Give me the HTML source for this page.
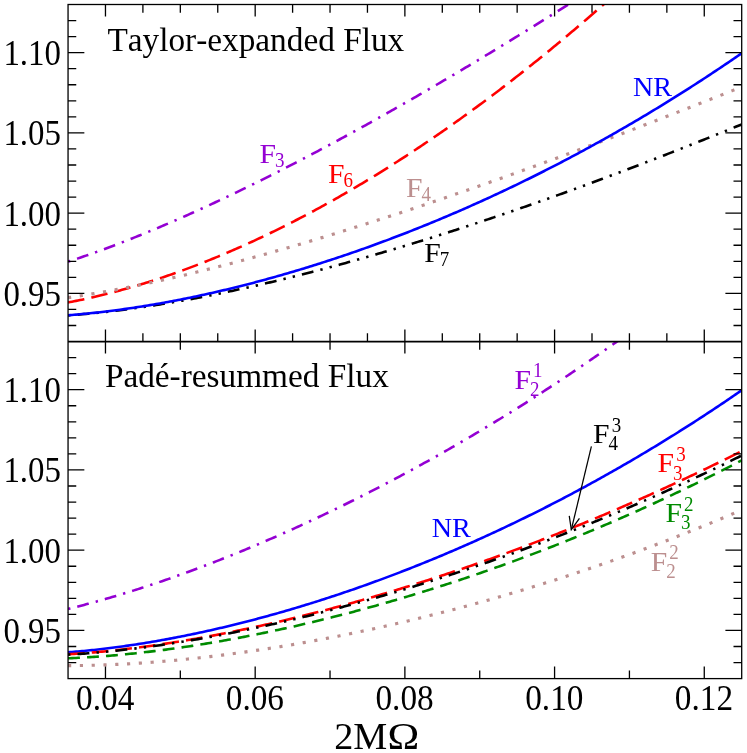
<!DOCTYPE html>
<html><head><meta charset="utf-8"><title>Flux</title>
<style>html,body{margin:0;padding:0;background:#fff;}svg{display:block;}text{font-family:"Liberation Serif",serif;font-kerning:none;font-variant-ligatures:none;}</style></head>
<body>
<svg width="747" height="753" viewBox="0 0 747 753" style="will-change:transform;transform:translateZ(0)">
<rect x="0" y="0" width="747" height="753" fill="#ffffff"/>
<defs>
<clipPath id="c0"><rect x="68.05" y="4.50" width="673.65" height="337.05"/></clipPath>
<clipPath id="c1"><rect x="68.05" y="341.55" width="673.65" height="337.05"/></clipPath>
</defs>
<g clip-path="url(#c0)" stroke-linecap="butt" stroke-linejoin="round">
<path d="M68.05 315.40 L70.05 315.25 L72.05 315.10 L74.05 314.94 L76.05 314.78 L78.04 314.61 L80.04 314.44 L82.04 314.27 L84.04 314.09 L86.04 313.91 L88.04 313.72 L90.04 313.53 L92.04 313.33 L94.04 313.13 L96.04 312.93 L98.03 312.72 L100.03 312.51 L102.03 312.29 L104.03 312.07 L106.03 311.85 L108.03 311.62 L110.03 311.39 L112.03 311.15 L114.03 310.91 L116.03 310.67 L118.02 310.42 L120.02 310.17 L122.02 309.92 L124.02 309.66 L126.02 309.39 L128.02 309.13 L130.02 308.86 L132.02 308.59 L134.02 308.31 L136.01 308.03 L138.01 307.75 L140.01 307.46 L142.01 307.17 L144.01 306.88 L146.01 306.58 L148.01 306.28 L150.01 305.97 L152.01 305.67 L154.01 305.36 L156.00 305.04 L158.00 304.73 L160.00 304.41 L162.00 304.08 L164.00 303.76 L166.00 303.43 L168.00 303.09 L170.00 302.76 L172.00 302.42 L173.99 302.08 L175.99 301.73 L177.99 301.38 L179.99 301.03 L181.99 300.68 L183.99 300.32 L185.99 299.96 L187.99 299.60 L189.99 299.23 L191.99 298.86 L193.98 298.49 L195.98 298.12 L197.98 297.74 L199.98 297.36 L201.98 296.97 L203.98 296.59 L205.98 296.20 L207.98 295.81 L209.98 295.41 L211.98 295.02 L213.97 294.62 L215.97 294.21 L217.97 293.81 L219.97 293.40 L221.97 292.99 L223.97 292.58 L225.97 292.16 L227.97 291.74 L229.97 291.32 L231.96 290.90 L233.96 290.47 L235.96 290.05 L237.96 289.61 L239.96 289.18 L241.96 288.74 L243.96 288.31 L245.96 287.86 L247.96 287.42 L249.96 286.97 L251.95 286.53 L253.95 286.08 L255.95 285.62 L257.95 285.17 L259.95 284.71 L261.95 284.25 L263.95 283.79 L265.95 283.32 L267.95 282.85 L269.95 282.38 L271.94 281.91 L273.94 281.44 L275.94 280.96 L277.94 280.48 L279.94 280.00 L281.94 279.52 L283.94 279.03 L285.94 278.54 L287.94 278.05 L289.93 277.56 L291.93 277.06 L293.93 276.57 L295.93 276.07 L297.93 275.57 L299.93 275.06 L301.93 274.56 L303.93 274.05 L305.93 273.54 L307.93 273.03 L309.92 272.52 L311.92 272.00 L313.92 271.48 L315.92 270.96 L317.92 270.44 L319.92 269.91 L321.92 269.39 L323.92 268.86 L325.92 268.33 L327.91 267.80 L329.91 267.26 L331.91 266.73 L333.91 266.19 L335.91 265.65 L337.91 265.11 L339.91 264.56 L341.91 264.01 L343.91 263.47 L345.91 262.92 L347.90 262.36 L349.90 261.81 L351.90 261.25 L353.90 260.70 L355.90 260.14 L357.90 259.58 L359.90 259.01 L361.90 258.45 L363.90 257.88 L365.90 257.31 L367.89 256.74 L369.89 256.17 L371.89 255.59 L373.89 255.02 L375.89 254.44 L377.89 253.86 L379.89 253.28 L381.89 252.69 L383.89 252.11 L385.88 251.52 L387.88 250.93 L389.88 250.34 L391.88 249.75 L393.88 249.15 L395.88 248.56 L397.88 247.96 L399.88 247.36 L401.88 246.76 L403.88 246.16 L405.87 245.55 L407.87 244.95 L409.87 244.34 L411.87 243.73 L413.87 243.12 L415.87 242.50 L417.87 241.89 L419.87 241.27 L421.87 240.66 L423.87 240.04 L425.86 239.42 L427.86 238.79 L429.86 238.17 L431.86 237.54 L433.86 236.92 L435.86 236.29 L437.86 235.66 L439.86 235.02 L441.86 234.39 L443.85 233.75 L445.85 233.12 L447.85 232.48 L449.85 231.84 L451.85 231.20 L453.85 230.55 L455.85 229.91 L457.85 229.26 L459.85 228.61 L461.85 227.96 L463.84 227.31 L465.84 226.66 L467.84 226.01 L469.84 225.35 L471.84 224.70 L473.84 224.04 L475.84 223.38 L477.84 222.72 L479.84 222.05 L481.84 221.39 L483.83 220.72 L485.83 220.06 L487.83 219.39 L489.83 218.72 L491.83 218.05 L493.83 217.37 L495.83 216.70 L497.83 216.02 L499.83 215.35 L501.82 214.67 L503.82 213.99 L505.82 213.31 L507.82 212.62 L509.82 211.94 L511.82 211.25 L513.82 210.57 L515.82 209.88 L517.82 209.19 L519.82 208.50 L521.81 207.80 L523.81 207.11 L525.81 206.42 L527.81 205.72 L529.81 205.02 L531.81 204.32 L533.81 203.62 L535.81 202.92 L537.81 202.22 L539.80 201.51 L541.80 200.81 L543.80 200.10 L545.80 199.39 L547.80 198.68 L549.80 197.97 L551.80 197.26 L553.80 196.55 L555.80 195.83 L557.80 195.11 L559.79 194.40 L561.79 193.68 L563.79 192.96 L565.79 192.24 L567.79 191.52 L569.79 190.79 L571.79 190.07 L573.79 189.34 L575.79 188.61 L577.79 187.89 L579.78 187.16 L581.78 186.43 L583.78 185.69 L585.78 184.96 L587.78 184.23 L589.78 183.49 L591.78 182.75 L593.78 182.01 L595.78 181.28 L597.77 180.53 L599.77 179.79 L601.77 179.05 L603.77 178.31 L605.77 177.56 L607.77 176.81 L609.77 176.07 L611.77 175.32 L613.77 174.57 L615.77 173.82 L617.76 173.07 L619.76 172.31 L621.76 171.56 L623.76 170.80 L625.76 170.05 L627.76 169.29 L629.76 168.53 L631.76 167.77 L633.76 167.01 L635.76 166.25 L637.75 165.48 L639.75 164.72 L641.75 163.95 L643.75 163.19 L645.75 162.42 L647.75 161.65 L649.75 160.88 L651.75 160.11 L653.75 159.34 L655.74 158.56 L657.74 157.79 L659.74 157.01 L661.74 156.24 L663.74 155.46 L665.74 154.68 L667.74 153.90 L669.74 153.12 L671.74 152.34 L673.74 151.56 L675.73 150.78 L677.73 149.99 L679.73 149.21 L681.73 148.42 L683.73 147.63 L685.73 146.84 L687.73 146.05 L689.73 145.26 L691.73 144.47 L693.72 143.68 L695.72 142.88 L697.72 142.09 L699.72 141.29 L701.72 140.50 L703.72 139.70 L705.72 138.90 L707.72 138.10 L709.72 137.30 L711.72 136.50 L713.71 135.70 L715.71 134.89 L717.71 134.09 L719.71 133.28 L721.71 132.48 L723.71 131.67 L725.71 130.86 L727.71 130.05 L729.71 129.24 L731.71 128.43 L733.70 127.62 L735.70 126.81 L737.70 125.99 L739.70 125.18 L741.70 124.36" fill="none" stroke="#000000" stroke-width="2.58" stroke-dasharray="2.38,7.13,11.88,7.13,2.38,7.13" stroke-dashoffset="0.00"/>
<path d="M68.05 261.70 L70.05 261.05 L72.05 260.39 L74.05 259.72 L76.05 259.06 L78.04 258.38 L80.04 257.70 L82.04 257.02 L84.04 256.33 L86.04 255.64 L88.04 254.94 L90.04 254.24 L92.04 253.53 L94.04 252.82 L96.04 252.10 L98.03 251.38 L100.03 250.66 L102.03 249.93 L104.03 249.19 L106.03 248.45 L108.03 247.71 L110.03 246.96 L112.03 246.21 L114.03 245.46 L116.03 244.70 L118.02 243.93 L120.02 243.16 L122.02 242.39 L124.02 241.61 L126.02 240.83 L128.02 240.05 L130.02 239.26 L132.02 238.47 L134.02 237.67 L136.01 236.87 L138.01 236.07 L140.01 235.26 L142.01 234.45 L144.01 233.64 L146.01 232.82 L148.01 231.99 L150.01 231.17 L152.01 230.34 L154.01 229.50 L156.00 228.67 L158.00 227.83 L160.00 226.98 L162.00 226.14 L164.00 225.29 L166.00 224.43 L168.00 223.57 L170.00 222.71 L172.00 221.85 L173.99 220.98 L175.99 220.11 L177.99 219.24 L179.99 218.36 L181.99 217.48 L183.99 216.59 L185.99 215.71 L187.99 214.82 L189.99 213.92 L191.99 213.03 L193.98 212.13 L195.98 211.22 L197.98 210.32 L199.98 209.41 L201.98 208.50 L203.98 207.58 L205.98 206.66 L207.98 205.74 L209.98 204.82 L211.98 203.89 L213.97 202.96 L215.97 202.03 L217.97 201.09 L219.97 200.16 L221.97 199.22 L223.97 198.27 L225.97 197.33 L227.97 196.38 L229.97 195.42 L231.96 194.47 L233.96 193.51 L235.96 192.55 L237.96 191.59 L239.96 190.62 L241.96 189.65 L243.96 188.68 L245.96 187.71 L247.96 186.73 L249.96 185.76 L251.95 184.77 L253.95 183.79 L255.95 182.80 L257.95 181.81 L259.95 180.82 L261.95 179.83 L263.95 178.83 L265.95 177.83 L267.95 176.83 L269.95 175.83 L271.94 174.82 L273.94 173.81 L275.94 172.80 L277.94 171.79 L279.94 170.77 L281.94 169.76 L283.94 168.74 L285.94 167.71 L287.94 166.69 L289.93 165.66 L291.93 164.63 L293.93 163.60 L295.93 162.57 L297.93 161.53 L299.93 160.49 L301.93 159.45 L303.93 158.41 L305.93 157.36 L307.93 156.31 L309.92 155.26 L311.92 154.21 L313.92 153.16 L315.92 152.10 L317.92 151.04 L319.92 149.98 L321.92 148.92 L323.92 147.85 L325.92 146.79 L327.91 145.72 L329.91 144.65 L331.91 143.57 L333.91 142.50 L335.91 141.42 L337.91 140.34 L339.91 139.26 L341.91 138.18 L343.91 137.09 L345.91 136.01 L347.90 134.92 L349.90 133.83 L351.90 132.73 L353.90 131.64 L355.90 130.54 L357.90 129.44 L359.90 128.34 L361.90 127.24 L363.90 126.13 L365.90 125.03 L367.89 123.92 L369.89 122.81 L371.89 121.70 L373.89 120.58 L375.89 119.47 L377.89 118.35 L379.89 117.23 L381.89 116.11 L383.89 114.98 L385.88 113.86 L387.88 112.73 L389.88 111.60 L391.88 110.47 L393.88 109.34 L395.88 108.21 L397.88 107.07 L399.88 105.93 L401.88 104.80 L403.88 103.65 L405.87 102.51 L407.87 101.37 L409.87 100.22 L411.87 99.07 L413.87 97.92 L415.87 96.77 L417.87 95.62 L419.87 94.47 L421.87 93.31 L423.87 92.15 L425.86 90.99 L427.86 89.83 L429.86 88.67 L431.86 87.50 L433.86 86.34 L435.86 85.17 L437.86 84.00 L439.86 82.83 L441.86 81.66 L443.85 80.48 L445.85 79.31 L447.85 78.13 L449.85 76.95 L451.85 75.77 L453.85 74.59 L455.85 73.40 L457.85 72.22 L459.85 71.03 L461.85 69.84 L463.84 68.65 L465.84 67.46 L467.84 66.27 L469.84 65.08 L471.84 63.88 L473.84 62.68 L475.84 61.48 L477.84 60.28 L479.84 59.08 L481.84 57.88 L483.83 56.67 L485.83 55.47 L487.83 54.26 L489.83 53.05 L491.83 51.84 L493.83 50.63 L495.83 49.42 L497.83 48.20 L499.83 46.98 L501.82 45.77 L503.82 44.55 L505.82 43.33 L507.82 42.11 L509.82 40.88 L511.82 39.66 L513.82 38.43 L515.82 37.20 L517.82 35.98 L519.82 34.75 L521.81 33.51 L523.81 32.28 L525.81 31.05 L527.81 29.81 L529.81 28.57 L531.81 27.34 L533.81 26.10 L535.81 24.86 L537.81 23.61 L539.80 22.37 L541.80 21.13 L543.80 19.88 L545.80 18.63 L547.80 17.38 L549.80 16.13 L551.80 14.88 L553.80 13.63 L555.80 12.37 L557.80 11.12 L559.79 9.86 L561.79 8.60 L563.79 7.35 L565.79 6.09 L567.79 4.82 L569.79 3.56 L571.79 2.30 L573.79 1.03 L575.79 -0.23 L577.79 -1.50 L579.78 -2.77 L581.78 -4.04 L583.78 -5.31 L585.78 -6.59 L587.78 -7.86 L589.78 -9.14 L591.78 -10.41 L593.78 -11.69 L595.78 -12.97 L597.77 -14.25 L599.77 -15.53 L601.77 -16.81 L603.77 -18.09 L605.77 -19.38 L607.77 -20.66 L609.77 -21.95 L611.77 -23.24 L613.77 -24.53 L615.77 -25.82 L617.76 -27.11 L619.76 -28.40 L621.76 -29.70 L623.76 -30.99 L625.76 -32.29 L627.76 -33.59 L629.76 -34.89 L631.76 -36.18 L633.76 -37.49 L635.76 -38.79 L637.75 -40.09 L639.75 -41.39 L641.75 -42.70 L643.75 -44.01 L645.75 -45.31 L647.75 -46.62 L649.75 -47.93 L651.75 -49.24 L653.75 -50.55 L655.74 -51.87 L657.74 -53.18 L659.74 -54.50 L661.74 -55.81 L663.74 -57.13 L665.74 -58.45 L667.74 -59.77 L669.74 -61.09 L671.74 -62.41 L673.74 -63.73 L675.73 -65.05 L677.73 -66.38 L679.73 -67.70 L681.73 -69.03 L683.73 -70.36 L685.73 -71.69 L687.73 -73.02 L689.73 -74.35 L691.73 -75.68 L693.72 -77.01 L695.72 -78.35 L697.72 -79.68 L699.72 -81.02 L701.72 -82.35 L703.72 -83.69 L705.72 -85.03 L707.72 -86.37 L709.72 -87.71 L711.72 -89.05 L713.71 -90.40 L715.71 -91.74 L717.71 -93.09 L719.71 -94.43 L721.71 -95.78 L723.71 -97.13 L725.71 -98.47 L727.71 -99.82 L729.71 -101.18 L731.71 -102.53 L733.70 -103.88 L735.70 -105.23 L737.70 -106.59 L739.70 -107.94 L741.70 -109.30" fill="none" stroke="#9400d3" stroke-width="2.58" stroke-dasharray="2.38,7.13,11.88,7.13" stroke-dashoffset="0.00"/>
<path d="M68.05 302.44 L70.05 302.06 L72.05 301.68 L74.05 301.28 L76.05 300.88 L78.04 300.48 L80.04 300.06 L82.04 299.64 L84.04 299.22 L86.04 298.78 L88.04 298.34 L90.04 297.89 L92.04 297.44 L94.04 296.98 L96.04 296.51 L98.03 296.04 L100.03 295.56 L102.03 295.07 L104.03 294.58 L106.03 294.08 L108.03 293.58 L110.03 293.06 L112.03 292.55 L114.03 292.02 L116.03 291.49 L118.02 290.95 L120.02 290.41 L122.02 289.86 L124.02 289.30 L126.02 288.74 L128.02 288.17 L130.02 287.60 L132.02 287.02 L134.02 286.43 L136.01 285.84 L138.01 285.24 L140.01 284.64 L142.01 284.03 L144.01 283.41 L146.01 282.79 L148.01 282.16 L150.01 281.53 L152.01 280.89 L154.01 280.24 L156.00 279.59 L158.00 278.93 L160.00 278.27 L162.00 277.60 L164.00 276.92 L166.00 276.24 L168.00 275.56 L170.00 274.87 L172.00 274.17 L173.99 273.46 L175.99 272.75 L177.99 272.04 L179.99 271.32 L181.99 270.59 L183.99 269.86 L185.99 269.12 L187.99 268.38 L189.99 267.63 L191.99 266.88 L193.98 266.12 L195.98 265.35 L197.98 264.58 L199.98 263.81 L201.98 263.02 L203.98 262.24 L205.98 261.44 L207.98 260.65 L209.98 259.84 L211.98 259.03 L213.97 258.22 L215.97 257.40 L217.97 256.57 L219.97 255.74 L221.97 254.91 L223.97 254.06 L225.97 253.22 L227.97 252.36 L229.97 251.51 L231.96 250.64 L233.96 249.78 L235.96 248.90 L237.96 248.02 L239.96 247.14 L241.96 246.25 L243.96 245.36 L245.96 244.46 L247.96 243.55 L249.96 242.64 L251.95 241.72 L253.95 240.80 L255.95 239.88 L257.95 238.95 L259.95 238.01 L261.95 237.07 L263.95 236.12 L265.95 235.17 L267.95 234.21 L269.95 233.25 L271.94 232.28 L273.94 231.31 L275.94 230.33 L277.94 229.35 L279.94 228.36 L281.94 227.37 L283.94 226.37 L285.94 225.36 L287.94 224.35 L289.93 223.34 L291.93 222.32 L293.93 221.30 L295.93 220.27 L297.93 219.24 L299.93 218.20 L301.93 217.15 L303.93 216.10 L305.93 215.05 L307.93 213.99 L309.92 212.93 L311.92 211.86 L313.92 210.78 L315.92 209.70 L317.92 208.62 L319.92 207.53 L321.92 206.44 L323.92 205.34 L325.92 204.23 L327.91 203.12 L329.91 202.01 L331.91 200.89 L333.91 199.77 L335.91 198.64 L337.91 197.51 L339.91 196.37 L341.91 195.22 L343.91 194.07 L345.91 192.92 L347.90 191.76 L349.90 190.60 L351.90 189.43 L353.90 188.26 L355.90 187.08 L357.90 185.90 L359.90 184.71 L361.90 183.52 L363.90 182.32 L365.90 181.12 L367.89 179.91 L369.89 178.70 L371.89 177.48 L373.89 176.26 L375.89 175.03 L377.89 173.80 L379.89 172.57 L381.89 171.32 L383.89 170.08 L385.88 168.83 L387.88 167.57 L389.88 166.31 L391.88 165.05 L393.88 163.78 L395.88 162.50 L397.88 161.22 L399.88 159.94 L401.88 158.65 L403.88 157.35 L405.87 156.05 L407.87 154.75 L409.87 153.44 L411.87 152.13 L413.87 150.81 L415.87 149.49 L417.87 148.16 L419.87 146.83 L421.87 145.49 L423.87 144.15 L425.86 142.80 L427.86 141.45 L429.86 140.10 L431.86 138.74 L433.86 137.37 L435.86 136.00 L437.86 134.62 L439.86 133.24 L441.86 131.86 L443.85 130.47 L445.85 129.08 L447.85 127.68 L449.85 126.27 L451.85 124.87 L453.85 123.45 L455.85 122.04 L457.85 120.61 L459.85 119.19 L461.85 117.76 L463.84 116.32 L465.84 114.88 L467.84 113.43 L469.84 111.98 L471.84 110.53 L473.84 109.07 L475.84 107.60 L477.84 106.13 L479.84 104.66 L481.84 103.18 L483.83 101.70 L485.83 100.21 L487.83 98.72 L489.83 97.22 L491.83 95.72 L493.83 94.21 L495.83 92.70 L497.83 91.18 L499.83 89.66 L501.82 88.14 L503.82 86.61 L505.82 85.07 L507.82 83.53 L509.82 81.99 L511.82 80.44 L513.82 78.89 L515.82 77.33 L517.82 75.77 L519.82 74.20 L521.81 72.63 L523.81 71.05 L525.81 69.47 L527.81 67.89 L529.81 66.30 L531.81 64.70 L533.81 63.10 L535.81 61.50 L537.81 59.89 L539.80 58.28 L541.80 56.66 L543.80 55.04 L545.80 53.41 L547.80 51.78 L549.80 50.14 L551.80 48.50 L553.80 46.86 L555.80 45.21 L557.80 43.55 L559.79 41.89 L561.79 40.23 L563.79 38.56 L565.79 36.89 L567.79 35.21 L569.79 33.53 L571.79 31.84 L573.79 30.15 L575.79 28.45 L577.79 26.75 L579.78 25.05 L581.78 23.34 L583.78 21.62 L585.78 19.90 L587.78 18.18 L589.78 16.45 L591.78 14.72 L593.78 12.98 L595.78 11.24 L597.77 9.49 L599.77 7.74 L601.77 5.98 L603.77 4.22 L605.77 2.46 L607.77 0.69 L609.77 -1.08 L611.77 -2.86 L613.77 -4.64 L615.77 -6.43 L617.76 -8.22 L619.76 -10.02 L621.76 -11.82 L623.76 -13.63 L625.76 -15.44 L627.76 -17.25 L629.76 -19.07 L631.76 -20.90 L633.76 -22.73 L635.76 -24.56 L637.75 -26.40 L639.75 -28.24 L641.75 -30.09 L643.75 -31.94 L645.75 -33.79 L647.75 -35.65 L649.75 -37.52 L651.75 -39.39 L653.75 -41.26 L655.74 -43.14 L657.74 -45.02 L659.74 -46.91 L661.74 -48.80 L663.74 -50.70 L665.74 -52.60 L667.74 -54.51 L669.74 -56.42 L671.74 -58.33 L673.74 -60.25 L675.73 -62.18 L677.73 -64.10 L679.73 -66.04 L681.73 -67.97 L683.73 -69.92 L685.73 -71.86 L687.73 -73.81 L689.73 -75.77 L691.73 -77.73 L693.72 -79.69 L695.72 -81.66 L697.72 -83.64 L699.72 -85.62 L701.72 -87.60 L703.72 -89.59 L705.72 -91.58 L707.72 -93.57 L709.72 -95.57 L711.72 -97.58 L713.71 -99.59 L715.71 -101.60 L717.71 -103.62 L719.71 -105.65 L721.71 -107.67 L723.71 -109.71 L725.71 -111.74 L727.71 -113.79 L729.71 -115.83 L731.71 -117.88 L733.70 -119.94 L735.70 -122.00 L737.70 -124.06 L739.70 -126.13 L741.70 -128.20" fill="none" stroke="#ff0000" stroke-width="2.58" stroke-dasharray="16.63,7.13" stroke-dashoffset="0.00"/>
<path d="M68.05 297.64 L70.05 297.35 L72.05 297.06 L74.05 296.77 L76.05 296.47 L78.04 296.16 L80.04 295.85 L82.04 295.54 L84.04 295.23 L86.04 294.91 L88.04 294.58 L90.04 294.26 L92.04 293.92 L94.04 293.59 L96.04 293.25 L98.03 292.91 L100.03 292.56 L102.03 292.21 L104.03 291.86 L106.03 291.50 L108.03 291.14 L110.03 290.78 L112.03 290.41 L114.03 290.04 L116.03 289.67 L118.02 289.29 L120.02 288.91 L122.02 288.53 L124.02 288.14 L126.02 287.75 L128.02 287.36 L130.02 286.96 L132.02 286.56 L134.02 286.16 L136.01 285.75 L138.01 285.35 L140.01 284.93 L142.01 284.52 L144.01 284.10 L146.01 283.68 L148.01 283.26 L150.01 282.83 L152.01 282.40 L154.01 281.97 L156.00 281.54 L158.00 281.10 L160.00 280.66 L162.00 280.22 L164.00 279.77 L166.00 279.32 L168.00 278.87 L170.00 278.42 L172.00 277.96 L173.99 277.50 L175.99 277.04 L177.99 276.58 L179.99 276.11 L181.99 275.64 L183.99 275.17 L185.99 274.70 L187.99 274.22 L189.99 273.74 L191.99 273.26 L193.98 272.78 L195.98 272.29 L197.98 271.81 L199.98 271.32 L201.98 270.82 L203.98 270.33 L205.98 269.83 L207.98 269.33 L209.98 268.83 L211.98 268.33 L213.97 267.82 L215.97 267.31 L217.97 266.80 L219.97 266.29 L221.97 265.77 L223.97 265.26 L225.97 264.74 L227.97 264.22 L229.97 263.69 L231.96 263.17 L233.96 262.64 L235.96 262.11 L237.96 261.58 L239.96 261.05 L241.96 260.51 L243.96 259.97 L245.96 259.44 L247.96 258.89 L249.96 258.35 L251.95 257.81 L253.95 257.26 L255.95 256.71 L257.95 256.16 L259.95 255.61 L261.95 255.05 L263.95 254.50 L265.95 253.94 L267.95 253.38 L269.95 252.82 L271.94 252.25 L273.94 251.69 L275.94 251.12 L277.94 250.55 L279.94 249.98 L281.94 249.41 L283.94 248.84 L285.94 248.26 L287.94 247.68 L289.93 247.10 L291.93 246.52 L293.93 245.94 L295.93 245.36 L297.93 244.77 L299.93 244.18 L301.93 243.59 L303.93 243.00 L305.93 242.41 L307.93 241.82 L309.92 241.22 L311.92 240.63 L313.92 240.03 L315.92 239.43 L317.92 238.83 L319.92 238.22 L321.92 237.62 L323.92 237.01 L325.92 236.40 L327.91 235.79 L329.91 235.18 L331.91 234.57 L333.91 233.96 L335.91 233.34 L337.91 232.73 L339.91 232.11 L341.91 231.49 L343.91 230.87 L345.91 230.25 L347.90 229.62 L349.90 229.00 L351.90 228.37 L353.90 227.74 L355.90 227.11 L357.90 226.48 L359.90 225.85 L361.90 225.22 L363.90 224.58 L365.90 223.95 L367.89 223.31 L369.89 222.67 L371.89 222.03 L373.89 221.39 L375.89 220.75 L377.89 220.11 L379.89 219.46 L381.89 218.81 L383.89 218.17 L385.88 217.52 L387.88 216.87 L389.88 216.22 L391.88 215.56 L393.88 214.91 L395.88 214.26 L397.88 213.60 L399.88 212.94 L401.88 212.28 L403.88 211.62 L405.87 210.96 L407.87 210.30 L409.87 209.64 L411.87 208.97 L413.87 208.31 L415.87 207.64 L417.87 206.97 L419.87 206.30 L421.87 205.63 L423.87 204.96 L425.86 204.29 L427.86 203.61 L429.86 202.94 L431.86 202.26 L433.86 201.59 L435.86 200.91 L437.86 200.23 L439.86 199.55 L441.86 198.87 L443.85 198.18 L445.85 197.50 L447.85 196.82 L449.85 196.13 L451.85 195.44 L453.85 194.76 L455.85 194.07 L457.85 193.38 L459.85 192.69 L461.85 191.99 L463.84 191.30 L465.84 190.61 L467.84 189.91 L469.84 189.22 L471.84 188.52 L473.84 187.82 L475.84 187.12 L477.84 186.42 L479.84 185.72 L481.84 185.02 L483.83 184.32 L485.83 183.61 L487.83 182.91 L489.83 182.20 L491.83 181.49 L493.83 180.79 L495.83 180.08 L497.83 179.37 L499.83 178.66 L501.82 177.95 L503.82 177.23 L505.82 176.52 L507.82 175.81 L509.82 175.09 L511.82 174.37 L513.82 173.66 L515.82 172.94 L517.82 172.22 L519.82 171.50 L521.81 170.78 L523.81 170.06 L525.81 169.34 L527.81 168.61 L529.81 167.89 L531.81 167.16 L533.81 166.44 L535.81 165.71 L537.81 164.98 L539.80 164.26 L541.80 163.53 L543.80 162.80 L545.80 162.07 L547.80 161.33 L549.80 160.60 L551.80 159.87 L553.80 159.13 L555.80 158.40 L557.80 157.66 L559.79 156.93 L561.79 156.19 L563.79 155.45 L565.79 154.71 L567.79 153.97 L569.79 153.23 L571.79 152.49 L573.79 151.75 L575.79 151.00 L577.79 150.26 L579.78 149.51 L581.78 148.77 L583.78 148.02 L585.78 147.28 L587.78 146.53 L589.78 145.78 L591.78 145.03 L593.78 144.28 L595.78 143.53 L597.77 142.78 L599.77 142.03 L601.77 141.27 L603.77 140.52 L605.77 139.76 L607.77 139.01 L609.77 138.25 L611.77 137.50 L613.77 136.74 L615.77 135.98 L617.76 135.22 L619.76 134.46 L621.76 133.70 L623.76 132.94 L625.76 132.18 L627.76 131.42 L629.76 130.66 L631.76 129.89 L633.76 129.13 L635.76 128.36 L637.75 127.60 L639.75 126.83 L641.75 126.06 L643.75 125.29 L645.75 124.53 L647.75 123.76 L649.75 122.99 L651.75 122.22 L653.75 121.45 L655.74 120.67 L657.74 119.90 L659.74 119.13 L661.74 118.35 L663.74 117.58 L665.74 116.80 L667.74 116.03 L669.74 115.25 L671.74 114.48 L673.74 113.70 L675.73 112.92 L677.73 112.14 L679.73 111.36 L681.73 110.58 L683.73 109.80 L685.73 109.02 L687.73 108.24 L689.73 107.45 L691.73 106.67 L693.72 105.89 L695.72 105.10 L697.72 104.32 L699.72 103.53 L701.72 102.75 L703.72 101.96 L705.72 101.17 L707.72 100.38 L709.72 99.59 L711.72 98.81 L713.71 98.02 L715.71 97.22 L717.71 96.43 L719.71 95.64 L721.71 94.85 L723.71 94.06 L725.71 93.26 L727.71 92.47 L729.71 91.68 L731.71 90.88 L733.70 90.09 L735.70 89.29 L737.70 88.49 L739.70 87.69 L741.70 86.90" fill="none" stroke="#bc8f8f" stroke-width="3.15" stroke-dasharray="3.16,8.64" stroke-dashoffset="0.00"/>
<path d="M68.05 315.25 L70.05 315.10 L72.05 314.94 L74.05 314.77 L76.05 314.60 L78.04 314.43 L80.04 314.25 L82.04 314.06 L84.04 313.88 L86.04 313.68 L88.04 313.48 L90.04 313.28 L92.04 313.07 L94.04 312.86 L96.04 312.64 L98.03 312.42 L100.03 312.19 L102.03 311.96 L104.03 311.73 L106.03 311.49 L108.03 311.24 L110.03 310.99 L112.03 310.74 L114.03 310.48 L116.03 310.22 L118.02 309.95 L120.02 309.68 L122.02 309.41 L124.02 309.13 L126.02 308.85 L128.02 308.56 L130.02 308.27 L132.02 307.97 L134.02 307.67 L136.01 307.37 L138.01 307.06 L140.01 306.75 L142.01 306.43 L144.01 306.11 L146.01 305.78 L148.01 305.45 L150.01 305.12 L152.01 304.78 L154.01 304.44 L156.00 304.10 L158.00 303.75 L160.00 303.40 L162.00 303.04 L164.00 302.68 L166.00 302.32 L168.00 301.95 L170.00 301.58 L172.00 301.20 L173.99 300.82 L175.99 300.44 L177.99 300.05 L179.99 299.66 L181.99 299.27 L183.99 298.87 L185.99 298.46 L187.99 298.06 L189.99 297.65 L191.99 297.24 L193.98 296.82 L195.98 296.40 L197.98 295.97 L199.98 295.54 L201.98 295.11 L203.98 294.68 L205.98 294.24 L207.98 293.79 L209.98 293.35 L211.98 292.90 L213.97 292.44 L215.97 291.99 L217.97 291.53 L219.97 291.06 L221.97 290.59 L223.97 290.12 L225.97 289.65 L227.97 289.17 L229.97 288.69 L231.96 288.20 L233.96 287.71 L235.96 287.22 L237.96 286.72 L239.96 286.22 L241.96 285.72 L243.96 285.21 L245.96 284.70 L247.96 284.19 L249.96 283.67 L251.95 283.15 L253.95 282.63 L255.95 282.10 L257.95 281.57 L259.95 281.03 L261.95 280.49 L263.95 279.95 L265.95 279.41 L267.95 278.86 L269.95 278.31 L271.94 277.75 L273.94 277.20 L275.94 276.63 L277.94 276.07 L279.94 275.50 L281.94 274.93 L283.94 274.35 L285.94 273.77 L287.94 273.19 L289.93 272.61 L291.93 272.02 L293.93 271.42 L295.93 270.83 L297.93 270.23 L299.93 269.63 L301.93 269.02 L303.93 268.41 L305.93 267.80 L307.93 267.18 L309.92 266.57 L311.92 265.94 L313.92 265.32 L315.92 264.69 L317.92 264.06 L319.92 263.42 L321.92 262.78 L323.92 262.14 L325.92 261.49 L327.91 260.84 L329.91 260.19 L331.91 259.54 L333.91 258.88 L335.91 258.22 L337.91 257.55 L339.91 256.88 L341.91 256.21 L343.91 255.53 L345.91 254.85 L347.90 254.17 L349.90 253.49 L351.90 252.80 L353.90 252.11 L355.90 251.41 L357.90 250.71 L359.90 250.01 L361.90 249.31 L363.90 248.60 L365.90 247.88 L367.89 247.17 L369.89 246.45 L371.89 245.73 L373.89 245.00 L375.89 244.28 L377.89 243.55 L379.89 242.81 L381.89 242.07 L383.89 241.33 L385.88 240.59 L387.88 239.84 L389.88 239.09 L391.88 238.33 L393.88 237.57 L395.88 236.81 L397.88 236.05 L399.88 235.28 L401.88 234.51 L403.88 233.74 L405.87 232.96 L407.87 232.18 L409.87 231.39 L411.87 230.60 L413.87 229.81 L415.87 229.02 L417.87 228.22 L419.87 227.42 L421.87 226.62 L423.87 225.81 L425.86 225.00 L427.86 224.19 L429.86 223.37 L431.86 222.55 L433.86 221.72 L435.86 220.90 L437.86 220.07 L439.86 219.23 L441.86 218.39 L443.85 217.55 L445.85 216.71 L447.85 215.86 L449.85 215.01 L451.85 214.16 L453.85 213.30 L455.85 212.44 L457.85 211.58 L459.85 210.71 L461.85 209.84 L463.84 208.97 L465.84 208.09 L467.84 207.21 L469.84 206.32 L471.84 205.44 L473.84 204.55 L475.84 203.65 L477.84 202.75 L479.84 201.85 L481.84 200.95 L483.83 200.04 L485.83 199.13 L487.83 198.22 L489.83 197.30 L491.83 196.38 L493.83 195.45 L495.83 194.53 L497.83 193.59 L499.83 192.66 L501.82 191.72 L503.82 190.78 L505.82 189.84 L507.82 188.89 L509.82 187.94 L511.82 186.98 L513.82 186.02 L515.82 185.06 L517.82 184.10 L519.82 183.13 L521.81 182.16 L523.81 181.18 L525.81 180.20 L527.81 179.22 L529.81 178.23 L531.81 177.24 L533.81 176.25 L535.81 175.26 L537.81 174.26 L539.80 173.25 L541.80 172.25 L543.80 171.24 L545.80 170.22 L547.80 169.21 L549.80 168.19 L551.80 167.16 L553.80 166.13 L555.80 165.10 L557.80 164.07 L559.79 163.03 L561.79 161.99 L563.79 160.94 L565.79 159.90 L567.79 158.84 L569.79 157.79 L571.79 156.73 L573.79 155.67 L575.79 154.60 L577.79 153.53 L579.78 152.46 L581.78 151.38 L583.78 150.30 L585.78 149.22 L587.78 148.13 L589.78 147.04 L591.78 145.94 L593.78 144.85 L595.78 143.74 L597.77 142.64 L599.77 141.53 L601.77 140.42 L603.77 139.30 L605.77 138.18 L607.77 137.06 L609.77 135.93 L611.77 134.80 L613.77 133.67 L615.77 132.53 L617.76 131.39 L619.76 130.24 L621.76 129.09 L623.76 127.94 L625.76 126.78 L627.76 125.62 L629.76 124.46 L631.76 123.29 L633.76 122.12 L635.76 120.95 L637.75 119.77 L639.75 118.59 L641.75 117.40 L643.75 116.21 L645.75 115.02 L647.75 113.82 L649.75 112.62 L651.75 111.42 L653.75 110.21 L655.74 109.00 L657.74 107.78 L659.74 106.56 L661.74 105.34 L663.74 104.11 L665.74 102.88 L667.74 101.65 L669.74 100.41 L671.74 99.17 L673.74 97.92 L675.73 96.67 L677.73 95.42 L679.73 94.16 L681.73 92.90 L683.73 91.63 L685.73 90.36 L687.73 89.09 L689.73 87.81 L691.73 86.53 L693.72 85.25 L695.72 83.96 L697.72 82.67 L699.72 81.37 L701.72 80.07 L703.72 78.77 L705.72 77.46 L707.72 76.15 L709.72 74.83 L711.72 73.52 L713.71 72.19 L715.71 70.86 L717.71 69.53 L719.71 68.20 L721.71 66.86 L723.71 65.51 L725.71 64.17 L727.71 62.82 L729.71 61.46 L731.71 60.10 L733.70 58.74 L735.70 57.37 L737.70 56.00 L739.70 54.62 L741.70 53.24" fill="none" stroke="#0000ff" stroke-width="2.58"/>
</g>
<g clip-path="url(#c1)" stroke-linecap="butt" stroke-linejoin="round">
<path d="M68.05 652.30 L70.05 652.15 L72.05 651.99 L74.05 651.82 L76.05 651.65 L78.04 651.48 L80.04 651.30 L82.04 651.11 L84.04 650.93 L86.04 650.73 L88.04 650.53 L90.04 650.33 L92.04 650.12 L94.04 649.91 L96.04 649.69 L98.03 649.47 L100.03 649.24 L102.03 649.01 L104.03 648.78 L106.03 648.54 L108.03 648.29 L110.03 648.04 L112.03 647.79 L114.03 647.53 L116.03 647.27 L118.02 647.00 L120.02 646.73 L122.02 646.46 L124.02 646.18 L126.02 645.90 L128.02 645.61 L130.02 645.32 L132.02 645.02 L134.02 644.72 L136.01 644.42 L138.01 644.11 L140.01 643.80 L142.01 643.48 L144.01 643.16 L146.01 642.83 L148.01 642.50 L150.01 642.17 L152.01 641.83 L154.01 641.49 L156.00 641.15 L158.00 640.80 L160.00 640.45 L162.00 640.09 L164.00 639.73 L166.00 639.37 L168.00 639.00 L170.00 638.63 L172.00 638.25 L173.99 637.87 L175.99 637.49 L177.99 637.10 L179.99 636.71 L181.99 636.32 L183.99 635.92 L185.99 635.51 L187.99 635.11 L189.99 634.70 L191.99 634.29 L193.98 633.87 L195.98 633.45 L197.98 633.02 L199.98 632.59 L201.98 632.16 L203.98 631.73 L205.98 631.29 L207.98 630.84 L209.98 630.40 L211.98 629.95 L213.97 629.49 L215.97 629.04 L217.97 628.58 L219.97 628.11 L221.97 627.64 L223.97 627.17 L225.97 626.70 L227.97 626.22 L229.97 625.74 L231.96 625.25 L233.96 624.76 L235.96 624.27 L237.96 623.77 L239.96 623.27 L241.96 622.77 L243.96 622.26 L245.96 621.75 L247.96 621.24 L249.96 620.72 L251.95 620.20 L253.95 619.68 L255.95 619.15 L257.95 618.62 L259.95 618.08 L261.95 617.54 L263.95 617.00 L265.95 616.46 L267.95 615.91 L269.95 615.36 L271.94 614.80 L273.94 614.25 L275.94 613.68 L277.94 613.12 L279.94 612.55 L281.94 611.98 L283.94 611.40 L285.94 610.82 L287.94 610.24 L289.93 609.66 L291.93 609.07 L293.93 608.47 L295.93 607.88 L297.93 607.28 L299.93 606.68 L301.93 606.07 L303.93 605.46 L305.93 604.85 L307.93 604.23 L309.92 603.62 L311.92 602.99 L313.92 602.37 L315.92 601.74 L317.92 601.11 L319.92 600.47 L321.92 599.83 L323.92 599.19 L325.92 598.54 L327.91 597.89 L329.91 597.24 L331.91 596.59 L333.91 595.93 L335.91 595.27 L337.91 594.60 L339.91 593.93 L341.91 593.26 L343.91 592.58 L345.91 591.90 L347.90 591.22 L349.90 590.54 L351.90 589.85 L353.90 589.16 L355.90 588.46 L357.90 587.76 L359.90 587.06 L361.90 586.36 L363.90 585.65 L365.90 584.93 L367.89 584.22 L369.89 583.50 L371.89 582.78 L373.89 582.05 L375.89 581.33 L377.89 580.60 L379.89 579.86 L381.89 579.12 L383.89 578.38 L385.88 577.64 L387.88 576.89 L389.88 576.14 L391.88 575.38 L393.88 574.62 L395.88 573.86 L397.88 573.10 L399.88 572.33 L401.88 571.56 L403.88 570.79 L405.87 570.01 L407.87 569.23 L409.87 568.44 L411.87 567.65 L413.87 566.86 L415.87 566.07 L417.87 565.27 L419.87 564.47 L421.87 563.67 L423.87 562.86 L425.86 562.05 L427.86 561.24 L429.86 560.42 L431.86 559.60 L433.86 558.77 L435.86 557.95 L437.86 557.12 L439.86 556.28 L441.86 555.44 L443.85 554.60 L445.85 553.76 L447.85 552.91 L449.85 552.06 L451.85 551.21 L453.85 550.35 L455.85 549.49 L457.85 548.63 L459.85 547.76 L461.85 546.89 L463.84 546.02 L465.84 545.14 L467.84 544.26 L469.84 543.37 L471.84 542.49 L473.84 541.60 L475.84 540.70 L477.84 539.80 L479.84 538.90 L481.84 538.00 L483.83 537.09 L485.83 536.18 L487.83 535.27 L489.83 534.35 L491.83 533.43 L493.83 532.50 L495.83 531.58 L497.83 530.64 L499.83 529.71 L501.82 528.77 L503.82 527.83 L505.82 526.89 L507.82 525.94 L509.82 524.99 L511.82 524.03 L513.82 523.07 L515.82 522.11 L517.82 521.15 L519.82 520.18 L521.81 519.21 L523.81 518.23 L525.81 517.25 L527.81 516.27 L529.81 515.28 L531.81 514.29 L533.81 513.30 L535.81 512.31 L537.81 511.31 L539.80 510.30 L541.80 509.30 L543.80 508.29 L545.80 507.27 L547.80 506.26 L549.80 505.24 L551.80 504.21 L553.80 503.18 L555.80 502.15 L557.80 501.12 L559.79 500.08 L561.79 499.04 L563.79 497.99 L565.79 496.95 L567.79 495.89 L569.79 494.84 L571.79 493.78 L573.79 492.72 L575.79 491.65 L577.79 490.58 L579.78 489.51 L581.78 488.43 L583.78 487.35 L585.78 486.27 L587.78 485.18 L589.78 484.09 L591.78 482.99 L593.78 481.90 L595.78 480.79 L597.77 479.69 L599.77 478.58 L601.77 477.47 L603.77 476.35 L605.77 475.23 L607.77 474.11 L609.77 472.98 L611.77 471.85 L613.77 470.72 L615.77 469.58 L617.76 468.44 L619.76 467.29 L621.76 466.14 L623.76 464.99 L625.76 463.83 L627.76 462.67 L629.76 461.51 L631.76 460.34 L633.76 459.17 L635.76 458.00 L637.75 456.82 L639.75 455.64 L641.75 454.45 L643.75 453.26 L645.75 452.07 L647.75 450.87 L649.75 449.67 L651.75 448.47 L653.75 447.26 L655.74 446.05 L657.74 444.83 L659.74 443.61 L661.74 442.39 L663.74 441.16 L665.74 439.93 L667.74 438.70 L669.74 437.46 L671.74 436.22 L673.74 434.97 L675.73 433.72 L677.73 432.47 L679.73 431.21 L681.73 429.95 L683.73 428.68 L685.73 427.41 L687.73 426.14 L689.73 424.86 L691.73 423.58 L693.72 422.30 L695.72 421.01 L697.72 419.72 L699.72 418.42 L701.72 417.12 L703.72 415.82 L705.72 414.51 L707.72 413.20 L709.72 411.88 L711.72 410.57 L713.71 409.24 L715.71 407.91 L717.71 406.58 L719.71 405.25 L721.71 403.91 L723.71 402.56 L725.71 401.22 L727.71 399.87 L729.71 398.51 L731.71 397.15 L733.70 395.79 L735.70 394.42 L737.70 393.05 L739.70 391.67 L741.70 390.29" fill="none" stroke="#0000ff" stroke-width="2.58"/>
<path d="M68.05 608.93 L70.05 608.44 L72.05 607.94 L74.05 607.44 L76.05 606.94 L78.04 606.43 L80.04 605.92 L82.04 605.40 L84.04 604.88 L86.04 604.35 L88.04 603.82 L90.04 603.28 L92.04 602.74 L94.04 602.19 L96.04 601.64 L98.03 601.09 L100.03 600.53 L102.03 599.97 L104.03 599.40 L106.03 598.83 L108.03 598.25 L110.03 597.67 L112.03 597.09 L114.03 596.50 L116.03 595.90 L118.02 595.31 L120.02 594.71 L122.02 594.10 L124.02 593.49 L126.02 592.88 L128.02 592.26 L130.02 591.64 L132.02 591.02 L134.02 590.39 L136.01 589.76 L138.01 589.12 L140.01 588.48 L142.01 587.83 L144.01 587.19 L146.01 586.53 L148.01 585.88 L150.01 585.22 L152.01 584.55 L154.01 583.89 L156.00 583.22 L158.00 582.54 L160.00 581.86 L162.00 581.18 L164.00 580.50 L166.00 579.81 L168.00 579.11 L170.00 578.42 L172.00 577.72 L173.99 577.01 L175.99 576.30 L177.99 575.59 L179.99 574.88 L181.99 574.16 L183.99 573.44 L185.99 572.71 L187.99 571.98 L189.99 571.25 L191.99 570.52 L193.98 569.78 L195.98 569.03 L197.98 568.29 L199.98 567.54 L201.98 566.78 L203.98 566.03 L205.98 565.27 L207.98 564.50 L209.98 563.74 L211.98 562.97 L213.97 562.19 L215.97 561.42 L217.97 560.64 L219.97 559.85 L221.97 559.07 L223.97 558.28 L225.97 557.48 L227.97 556.69 L229.97 555.88 L231.96 555.08 L233.96 554.27 L235.96 553.46 L237.96 552.65 L239.96 551.83 L241.96 551.01 L243.96 550.19 L245.96 549.36 L247.96 548.53 L249.96 547.70 L251.95 546.87 L253.95 546.03 L255.95 545.18 L257.95 544.34 L259.95 543.49 L261.95 542.64 L263.95 541.78 L265.95 540.92 L267.95 540.06 L269.95 539.19 L271.94 538.33 L273.94 537.45 L275.94 536.58 L277.94 535.70 L279.94 534.82 L281.94 533.94 L283.94 533.05 L285.94 532.16 L287.94 531.27 L289.93 530.37 L291.93 529.47 L293.93 528.57 L295.93 527.66 L297.93 526.75 L299.93 525.84 L301.93 524.92 L303.93 524.00 L305.93 523.08 L307.93 522.16 L309.92 521.23 L311.92 520.30 L313.92 519.37 L315.92 518.43 L317.92 517.49 L319.92 516.54 L321.92 515.60 L323.92 514.65 L325.92 513.70 L327.91 512.74 L329.91 511.78 L331.91 510.82 L333.91 509.85 L335.91 508.88 L337.91 507.91 L339.91 506.94 L341.91 505.96 L343.91 504.98 L345.91 504.00 L347.90 503.01 L349.90 502.02 L351.90 501.03 L353.90 500.03 L355.90 499.03 L357.90 498.03 L359.90 497.03 L361.90 496.02 L363.90 495.01 L365.90 493.99 L367.89 492.97 L369.89 491.95 L371.89 490.93 L373.89 489.90 L375.89 488.87 L377.89 487.84 L379.89 486.81 L381.89 485.77 L383.89 484.72 L385.88 483.68 L387.88 482.63 L389.88 481.58 L391.88 480.53 L393.88 479.47 L395.88 478.41 L397.88 477.34 L399.88 476.28 L401.88 475.21 L403.88 474.14 L405.87 473.06 L407.87 471.98 L409.87 470.90 L411.87 469.81 L413.87 468.73 L415.87 467.63 L417.87 466.54 L419.87 465.44 L421.87 464.34 L423.87 463.24 L425.86 462.13 L427.86 461.02 L429.86 459.91 L431.86 458.79 L433.86 457.67 L435.86 456.55 L437.86 455.43 L439.86 454.30 L441.86 453.17 L443.85 452.03 L445.85 450.89 L447.85 449.75 L449.85 448.61 L451.85 447.46 L453.85 446.31 L455.85 445.16 L457.85 444.00 L459.85 442.84 L461.85 441.68 L463.84 440.51 L465.84 439.34 L467.84 438.17 L469.84 436.99 L471.84 435.82 L473.84 434.63 L475.84 433.45 L477.84 432.26 L479.84 431.07 L481.84 429.87 L483.83 428.68 L485.83 427.48 L487.83 426.27 L489.83 425.07 L491.83 423.85 L493.83 422.64 L495.83 421.42 L497.83 420.20 L499.83 418.98 L501.82 417.75 L503.82 416.53 L505.82 415.29 L507.82 414.06 L509.82 412.82 L511.82 411.57 L513.82 410.33 L515.82 409.08 L517.82 407.83 L519.82 406.57 L521.81 405.31 L523.81 404.05 L525.81 402.79 L527.81 401.52 L529.81 400.25 L531.81 398.97 L533.81 397.69 L535.81 396.41 L537.81 395.13 L539.80 393.84 L541.80 392.55 L543.80 391.25 L545.80 389.95 L547.80 388.65 L549.80 387.35 L551.80 386.04 L553.80 384.73 L555.80 383.42 L557.80 382.10 L559.79 380.78 L561.79 379.45 L563.79 378.12 L565.79 376.79 L567.79 375.46 L569.79 374.12 L571.79 372.78 L573.79 371.43 L575.79 370.08 L577.79 368.73 L579.78 367.38 L581.78 366.02 L583.78 364.66 L585.78 363.29 L587.78 361.92 L589.78 360.55 L591.78 359.18 L593.78 357.80 L595.78 356.41 L597.77 355.03 L599.77 353.64 L601.77 352.25 L603.77 350.85 L605.77 349.45 L607.77 348.05 L609.77 346.64 L611.77 345.23 L613.77 343.82 L615.77 342.40 L617.76 340.98 L619.76 339.55 L621.76 338.13 L623.76 336.70 L625.76 335.26 L627.76 333.82 L629.76 332.38 L631.76 330.93 L633.76 329.49 L635.76 328.03 L637.75 326.58 L639.75 325.12 L641.75 323.65 L643.75 322.19 L645.75 320.72 L647.75 319.24 L649.75 317.76 L651.75 316.28 L653.75 314.80 L655.74 313.31 L657.74 311.81 L659.74 310.32 L661.74 308.82 L663.74 307.31 L665.74 305.81 L667.74 304.30 L669.74 302.78 L671.74 301.26 L673.74 299.74 L675.73 298.22 L677.73 296.69 L679.73 295.15 L681.73 293.62 L683.73 292.07 L685.73 290.53 L687.73 288.98 L689.73 287.43 L691.73 285.87 L693.72 284.31 L695.72 282.75 L697.72 281.18 L699.72 279.61 L701.72 278.03 L703.72 276.46 L705.72 274.87 L707.72 273.29 L709.72 271.70 L711.72 270.10 L713.71 268.50 L715.71 266.90 L717.71 265.29 L719.71 263.68 L721.71 262.07 L723.71 260.45 L725.71 258.83 L727.71 257.20 L729.71 255.57 L731.71 253.94 L733.70 252.30 L735.70 250.66 L737.70 249.01 L739.70 247.36 L741.70 245.71" fill="none" stroke="#9400d3" stroke-width="2.58" stroke-dasharray="2.38,7.13,11.88,7.13" stroke-dashoffset="0.00"/>
<path d="M68.05 665.56 L70.05 665.56 L72.05 665.56 L74.05 665.55 L76.05 665.54 L78.04 665.52 L80.04 665.50 L82.04 665.47 L84.04 665.44 L86.04 665.41 L88.04 665.37 L90.04 665.33 L92.04 665.28 L94.04 665.23 L96.04 665.18 L98.03 665.12 L100.03 665.06 L102.03 665.00 L104.03 664.93 L106.03 664.86 L108.03 664.78 L110.03 664.70 L112.03 664.62 L114.03 664.53 L116.03 664.44 L118.02 664.35 L120.02 664.25 L122.02 664.15 L124.02 664.05 L126.02 663.94 L128.02 663.83 L130.02 663.72 L132.02 663.60 L134.02 663.48 L136.01 663.35 L138.01 663.23 L140.01 663.10 L142.01 662.96 L144.01 662.83 L146.01 662.68 L148.01 662.54 L150.01 662.39 L152.01 662.24 L154.01 662.09 L156.00 661.93 L158.00 661.77 L160.00 661.61 L162.00 661.45 L164.00 661.28 L166.00 661.11 L168.00 660.93 L170.00 660.75 L172.00 660.57 L173.99 660.39 L175.99 660.20 L177.99 660.01 L179.99 659.82 L181.99 659.62 L183.99 659.43 L185.99 659.22 L187.99 659.02 L189.99 658.81 L191.99 658.60 L193.98 658.39 L195.98 658.17 L197.98 657.95 L199.98 657.73 L201.98 657.51 L203.98 657.28 L205.98 657.05 L207.98 656.82 L209.98 656.58 L211.98 656.35 L213.97 656.11 L215.97 655.86 L217.97 655.62 L219.97 655.37 L221.97 655.12 L223.97 654.86 L225.97 654.60 L227.97 654.35 L229.97 654.08 L231.96 653.82 L233.96 653.55 L235.96 653.28 L237.96 653.01 L239.96 652.73 L241.96 652.45 L243.96 652.17 L245.96 651.89 L247.96 651.60 L249.96 651.32 L251.95 651.03 L253.95 650.73 L255.95 650.44 L257.95 650.14 L259.95 649.84 L261.95 649.53 L263.95 649.23 L265.95 648.92 L267.95 648.61 L269.95 648.29 L271.94 647.98 L273.94 647.66 L275.94 647.34 L277.94 647.02 L279.94 646.69 L281.94 646.36 L283.94 646.03 L285.94 645.70 L287.94 645.36 L289.93 645.02 L291.93 644.68 L293.93 644.34 L295.93 644.00 L297.93 643.65 L299.93 643.30 L301.93 642.95 L303.93 642.59 L305.93 642.23 L307.93 641.87 L309.92 641.51 L311.92 641.15 L313.92 640.78 L315.92 640.41 L317.92 640.04 L319.92 639.67 L321.92 639.29 L323.92 638.91 L325.92 638.53 L327.91 638.15 L329.91 637.76 L331.91 637.38 L333.91 636.99 L335.91 636.59 L337.91 636.20 L339.91 635.80 L341.91 635.40 L343.91 635.00 L345.91 634.60 L347.90 634.19 L349.90 633.78 L351.90 633.37 L353.90 632.96 L355.90 632.54 L357.90 632.12 L359.90 631.70 L361.90 631.28 L363.90 630.86 L365.90 630.43 L367.89 630.00 L369.89 629.57 L371.89 629.14 L373.89 628.70 L375.89 628.26 L377.89 627.82 L379.89 627.38 L381.89 626.93 L383.89 626.49 L385.88 626.04 L387.88 625.59 L389.88 625.13 L391.88 624.68 L393.88 624.22 L395.88 623.76 L397.88 623.29 L399.88 622.83 L401.88 622.36 L403.88 621.89 L405.87 621.42 L407.87 620.95 L409.87 620.47 L411.87 619.99 L413.87 619.51 L415.87 619.03 L417.87 618.54 L419.87 618.05 L421.87 617.56 L423.87 617.07 L425.86 616.58 L427.86 616.08 L429.86 615.58 L431.86 615.08 L433.86 614.58 L435.86 614.07 L437.86 613.57 L439.86 613.06 L441.86 612.55 L443.85 612.03 L445.85 611.52 L447.85 611.00 L449.85 610.48 L451.85 609.95 L453.85 609.43 L455.85 608.90 L457.85 608.37 L459.85 607.84 L461.85 607.30 L463.84 606.77 L465.84 606.23 L467.84 605.69 L469.84 605.15 L471.84 604.60 L473.84 604.05 L475.84 603.50 L477.84 602.95 L479.84 602.40 L481.84 601.84 L483.83 601.28 L485.83 600.72 L487.83 600.16 L489.83 599.59 L491.83 599.03 L493.83 598.46 L495.83 597.89 L497.83 597.31 L499.83 596.74 L501.82 596.16 L503.82 595.58 L505.82 594.99 L507.82 594.41 L509.82 593.82 L511.82 593.23 L513.82 592.64 L515.82 592.05 L517.82 591.45 L519.82 590.85 L521.81 590.25 L523.81 589.65 L525.81 589.04 L527.81 588.43 L529.81 587.82 L531.81 587.21 L533.81 586.60 L535.81 585.98 L537.81 585.36 L539.80 584.74 L541.80 584.12 L543.80 583.49 L545.80 582.86 L547.80 582.23 L549.80 581.60 L551.80 580.97 L553.80 580.33 L555.80 579.69 L557.80 579.05 L559.79 578.41 L561.79 577.76 L563.79 577.11 L565.79 576.46 L567.79 575.81 L569.79 575.15 L571.79 574.50 L573.79 573.84 L575.79 573.18 L577.79 572.51 L579.78 571.84 L581.78 571.18 L583.78 570.50 L585.78 569.83 L587.78 569.16 L589.78 568.48 L591.78 567.80 L593.78 567.11 L595.78 566.43 L597.77 565.74 L599.77 565.05 L601.77 564.36 L603.77 563.67 L605.77 562.97 L607.77 562.27 L609.77 561.57 L611.77 560.87 L613.77 560.16 L615.77 559.45 L617.76 558.74 L619.76 558.03 L621.76 557.31 L623.76 556.60 L625.76 555.88 L627.76 555.15 L629.76 554.43 L631.76 553.70 L633.76 552.97 L635.76 552.24 L637.75 551.51 L639.75 550.77 L641.75 550.03 L643.75 549.29 L645.75 548.55 L647.75 547.80 L649.75 547.05 L651.75 546.30 L653.75 545.55 L655.74 544.79 L657.74 544.03 L659.74 543.27 L661.74 542.51 L663.74 541.75 L665.74 540.98 L667.74 540.21 L669.74 539.44 L671.74 538.66 L673.74 537.88 L675.73 537.10 L677.73 536.32 L679.73 535.54 L681.73 534.75 L683.73 533.96 L685.73 533.17 L687.73 532.37 L689.73 531.57 L691.73 530.77 L693.72 529.97 L695.72 529.17 L697.72 528.36 L699.72 527.55 L701.72 526.74 L703.72 525.92 L705.72 525.11 L707.72 524.29 L709.72 523.46 L711.72 522.64 L713.71 521.81 L715.71 520.98 L717.71 520.15 L719.71 519.31 L721.71 518.48 L723.71 517.64 L725.71 516.79 L727.71 515.95 L729.71 515.10 L731.71 514.25 L733.70 513.40 L735.70 512.54 L737.70 511.68 L739.70 510.82 L741.70 509.96" fill="none" stroke="#bc8f8f" stroke-width="3.15" stroke-dasharray="3.16,8.64" stroke-dashoffset="0.00"/>
<path d="M68.05 654.27 L70.05 654.15 L72.05 654.03 L74.05 653.89 L76.05 653.76 L78.04 653.62 L80.04 653.48 L82.04 653.33 L84.04 653.17 L86.04 653.02 L88.04 652.86 L90.04 652.69 L92.04 652.52 L94.04 652.35 L96.04 652.17 L98.03 651.99 L100.03 651.80 L102.03 651.61 L104.03 651.42 L106.03 651.22 L108.03 651.02 L110.03 650.82 L112.03 650.61 L114.03 650.39 L116.03 650.18 L118.02 649.96 L120.02 649.73 L122.02 649.50 L124.02 649.27 L126.02 649.04 L128.02 648.80 L130.02 648.56 L132.02 648.31 L134.02 648.06 L136.01 647.81 L138.01 647.55 L140.01 647.29 L142.01 647.03 L144.01 646.76 L146.01 646.49 L148.01 646.21 L150.01 645.94 L152.01 645.66 L154.01 645.37 L156.00 645.08 L158.00 644.79 L160.00 644.50 L162.00 644.20 L164.00 643.90 L166.00 643.60 L168.00 643.29 L170.00 642.98 L172.00 642.67 L173.99 642.35 L175.99 642.03 L177.99 641.71 L179.99 641.38 L181.99 641.05 L183.99 640.72 L185.99 640.38 L187.99 640.04 L189.99 639.70 L191.99 639.36 L193.98 639.01 L195.98 638.66 L197.98 638.31 L199.98 637.95 L201.98 637.59 L203.98 637.23 L205.98 636.86 L207.98 636.49 L209.98 636.12 L211.98 635.75 L213.97 635.37 L215.97 634.99 L217.97 634.61 L219.97 634.22 L221.97 633.84 L223.97 633.44 L225.97 633.05 L227.97 632.65 L229.97 632.25 L231.96 631.85 L233.96 631.45 L235.96 631.04 L237.96 630.63 L239.96 630.21 L241.96 629.80 L243.96 629.38 L245.96 628.96 L247.96 628.53 L249.96 628.11 L251.95 627.68 L253.95 627.24 L255.95 626.81 L257.95 626.37 L259.95 625.93 L261.95 625.49 L263.95 625.04 L265.95 624.60 L267.95 624.14 L269.95 623.69 L271.94 623.23 L273.94 622.78 L275.94 622.32 L277.94 621.85 L279.94 621.39 L281.94 620.92 L283.94 620.44 L285.94 619.97 L287.94 619.49 L289.93 619.02 L291.93 618.53 L293.93 618.05 L295.93 617.56 L297.93 617.07 L299.93 616.58 L301.93 616.09 L303.93 615.59 L305.93 615.09 L307.93 614.59 L309.92 614.09 L311.92 613.58 L313.92 613.07 L315.92 612.56 L317.92 612.05 L319.92 611.53 L321.92 611.01 L323.92 610.49 L325.92 609.97 L327.91 609.44 L329.91 608.91 L331.91 608.38 L333.91 607.85 L335.91 607.31 L337.91 606.78 L339.91 606.24 L341.91 605.69 L343.91 605.15 L345.91 604.60 L347.90 604.05 L349.90 603.50 L351.90 602.94 L353.90 602.39 L355.90 601.83 L357.90 601.27 L359.90 600.70 L361.90 600.13 L363.90 599.57 L365.90 598.99 L367.89 598.42 L369.89 597.85 L371.89 597.27 L373.89 596.69 L375.89 596.10 L377.89 595.52 L379.89 594.93 L381.89 594.34 L383.89 593.75 L385.88 593.16 L387.88 592.56 L389.88 591.96 L391.88 591.36 L393.88 590.76 L395.88 590.15 L397.88 589.54 L399.88 588.93 L401.88 588.32 L403.88 587.70 L405.87 587.09 L407.87 586.47 L409.87 585.84 L411.87 585.22 L413.87 584.59 L415.87 583.97 L417.87 583.33 L419.87 582.70 L421.87 582.07 L423.87 581.43 L425.86 580.79 L427.86 580.15 L429.86 579.50 L431.86 578.85 L433.86 578.21 L435.86 577.55 L437.86 576.90 L439.86 576.25 L441.86 575.59 L443.85 574.93 L445.85 574.26 L447.85 573.60 L449.85 572.93 L451.85 572.26 L453.85 571.59 L455.85 570.92 L457.85 570.24 L459.85 569.56 L461.85 568.88 L463.84 568.20 L465.84 567.51 L467.84 566.83 L469.84 566.14 L471.84 565.45 L473.84 564.75 L475.84 564.06 L477.84 563.36 L479.84 562.66 L481.84 561.95 L483.83 561.25 L485.83 560.54 L487.83 559.83 L489.83 559.12 L491.83 558.41 L493.83 557.69 L495.83 556.97 L497.83 556.25 L499.83 555.53 L501.82 554.80 L503.82 554.07 L505.82 553.34 L507.82 552.61 L509.82 551.88 L511.82 551.14 L513.82 550.40 L515.82 549.66 L517.82 548.92 L519.82 548.17 L521.81 547.42 L523.81 546.67 L525.81 545.92 L527.81 545.17 L529.81 544.41 L531.81 543.65 L533.81 542.89 L535.81 542.13 L537.81 541.36 L539.80 540.59 L541.80 539.82 L543.80 539.05 L545.80 538.27 L547.80 537.50 L549.80 536.72 L551.80 535.94 L553.80 535.15 L555.80 534.37 L557.80 533.58 L559.79 532.79 L561.79 531.99 L563.79 531.20 L565.79 530.40 L567.79 529.60 L569.79 528.80 L571.79 528.00 L573.79 527.19 L575.79 526.38 L577.79 525.57 L579.78 524.76 L581.78 523.94 L583.78 523.12 L585.78 522.30 L587.78 521.48 L589.78 520.66 L591.78 519.83 L593.78 519.00 L595.78 518.17 L597.77 517.33 L599.77 516.50 L601.77 515.66 L603.77 514.82 L605.77 513.98 L607.77 513.13 L609.77 512.28 L611.77 511.43 L613.77 510.58 L615.77 509.72 L617.76 508.87 L619.76 508.01 L621.76 507.15 L623.76 506.28 L625.76 505.42 L627.76 504.55 L629.76 503.68 L631.76 502.80 L633.76 501.93 L635.76 501.05 L637.75 500.17 L639.75 499.29 L641.75 498.40 L643.75 497.51 L645.75 496.62 L647.75 495.73 L649.75 494.84 L651.75 493.94 L653.75 493.04 L655.74 492.14 L657.74 491.24 L659.74 490.33 L661.74 489.42 L663.74 488.51 L665.74 487.60 L667.74 486.68 L669.74 485.76 L671.74 484.84 L673.74 483.92 L675.73 482.99 L677.73 482.06 L679.73 481.13 L681.73 480.20 L683.73 479.27 L685.73 478.33 L687.73 477.39 L689.73 476.45 L691.73 475.50 L693.72 474.55 L695.72 473.60 L697.72 472.65 L699.72 471.70 L701.72 470.74 L703.72 469.78 L705.72 468.82 L707.72 467.85 L709.72 466.89 L711.72 465.92 L713.71 464.95 L715.71 463.97 L717.71 462.99 L719.71 462.02 L721.71 461.03 L723.71 460.05 L725.71 459.06 L727.71 458.07 L729.71 457.08 L731.71 456.09 L733.70 455.09 L735.70 454.09 L737.70 453.09 L739.70 452.08 L741.70 451.08" fill="none" stroke="#ff0000" stroke-width="2.58" stroke-dasharray="16.63,7.13" stroke-dashoffset="0.00"/>
<path d="M68.05 658.27 L70.05 658.19 L72.05 658.11 L74.05 658.02 L76.05 657.93 L78.04 657.83 L80.04 657.72 L82.04 657.62 L84.04 657.51 L86.04 657.39 L88.04 657.27 L90.04 657.15 L92.04 657.02 L94.04 656.89 L96.04 656.75 L98.03 656.61 L100.03 656.46 L102.03 656.32 L104.03 656.16 L106.03 656.01 L108.03 655.85 L110.03 655.68 L112.03 655.51 L114.03 655.34 L116.03 655.17 L118.02 654.99 L120.02 654.80 L122.02 654.62 L124.02 654.42 L126.02 654.23 L128.02 654.03 L130.02 653.83 L132.02 653.62 L134.02 653.42 L136.01 653.20 L138.01 652.99 L140.01 652.77 L142.01 652.54 L144.01 652.32 L146.01 652.09 L148.01 651.85 L150.01 651.62 L152.01 651.38 L154.01 651.13 L156.00 650.88 L158.00 650.63 L160.00 650.38 L162.00 650.12 L164.00 649.86 L166.00 649.60 L168.00 649.33 L170.00 649.06 L172.00 648.78 L173.99 648.51 L175.99 648.23 L177.99 647.94 L179.99 647.66 L181.99 647.37 L183.99 647.07 L185.99 646.78 L187.99 646.48 L189.99 646.18 L191.99 645.87 L193.98 645.56 L195.98 645.25 L197.98 644.93 L199.98 644.62 L201.98 644.29 L203.98 643.97 L205.98 643.64 L207.98 643.31 L209.98 642.98 L211.98 642.64 L213.97 642.30 L215.97 641.96 L217.97 641.62 L219.97 641.27 L221.97 640.92 L223.97 640.56 L225.97 640.21 L227.97 639.85 L229.97 639.49 L231.96 639.12 L233.96 638.75 L235.96 638.38 L237.96 638.01 L239.96 637.63 L241.96 637.25 L243.96 636.87 L245.96 636.48 L247.96 636.09 L249.96 635.70 L251.95 635.31 L253.95 634.91 L255.95 634.51 L257.95 634.11 L259.95 633.70 L261.95 633.30 L263.95 632.88 L265.95 632.47 L267.95 632.05 L269.95 631.64 L271.94 631.21 L273.94 630.79 L275.94 630.36 L277.94 629.93 L279.94 629.50 L281.94 629.06 L283.94 628.63 L285.94 628.19 L287.94 627.74 L289.93 627.30 L291.93 626.85 L293.93 626.40 L295.93 625.94 L297.93 625.49 L299.93 625.03 L301.93 624.56 L303.93 624.10 L305.93 623.63 L307.93 623.16 L309.92 622.69 L311.92 622.21 L313.92 621.74 L315.92 621.26 L317.92 620.77 L319.92 620.29 L321.92 619.80 L323.92 619.31 L325.92 618.81 L327.91 618.32 L329.91 617.82 L331.91 617.32 L333.91 616.81 L335.91 616.31 L337.91 615.80 L339.91 615.29 L341.91 614.77 L343.91 614.26 L345.91 613.74 L347.90 613.21 L349.90 612.69 L351.90 612.16 L353.90 611.63 L355.90 611.10 L357.90 610.57 L359.90 610.03 L361.90 609.49 L363.90 608.95 L365.90 608.40 L367.89 607.85 L369.89 607.30 L371.89 606.75 L373.89 606.20 L375.89 605.64 L377.89 605.08 L379.89 604.52 L381.89 603.95 L383.89 603.38 L385.88 602.81 L387.88 602.24 L389.88 601.67 L391.88 601.09 L393.88 600.51 L395.88 599.92 L397.88 599.34 L399.88 598.75 L401.88 598.16 L403.88 597.57 L405.87 596.97 L407.87 596.37 L409.87 595.77 L411.87 595.17 L413.87 594.57 L415.87 593.96 L417.87 593.35 L419.87 592.73 L421.87 592.12 L423.87 591.50 L425.86 590.88 L427.86 590.26 L429.86 589.63 L431.86 589.00 L433.86 588.37 L435.86 587.74 L437.86 587.11 L439.86 586.47 L441.86 585.83 L443.85 585.18 L445.85 584.54 L447.85 583.89 L449.85 583.24 L451.85 582.59 L453.85 581.93 L455.85 581.27 L457.85 580.61 L459.85 579.95 L461.85 579.28 L463.84 578.62 L465.84 577.95 L467.84 577.27 L469.84 576.60 L471.84 575.92 L473.84 575.24 L475.84 574.55 L477.84 573.87 L479.84 573.18 L481.84 572.49 L483.83 571.80 L485.83 571.10 L487.83 570.40 L489.83 569.70 L491.83 569.00 L493.83 568.29 L495.83 567.59 L497.83 566.87 L499.83 566.16 L501.82 565.45 L503.82 564.73 L505.82 564.01 L507.82 563.28 L509.82 562.56 L511.82 561.83 L513.82 561.10 L515.82 560.36 L517.82 559.63 L519.82 558.89 L521.81 558.15 L523.81 557.40 L525.81 556.66 L527.81 555.91 L529.81 555.16 L531.81 554.40 L533.81 553.65 L535.81 552.89 L537.81 552.12 L539.80 551.36 L541.80 550.59 L543.80 549.82 L545.80 549.05 L547.80 548.28 L549.80 547.50 L551.80 546.72 L553.80 545.94 L555.80 545.15 L557.80 544.37 L559.79 543.58 L561.79 542.78 L563.79 541.99 L565.79 541.19 L567.79 540.39 L569.79 539.59 L571.79 538.78 L573.79 537.97 L575.79 537.16 L577.79 536.35 L579.78 535.53 L581.78 534.71 L583.78 533.89 L585.78 533.07 L587.78 532.24 L589.78 531.41 L591.78 530.58 L593.78 529.74 L595.78 528.91 L597.77 528.07 L599.77 527.22 L601.77 526.38 L603.77 525.53 L605.77 524.68 L607.77 523.83 L609.77 522.97 L611.77 522.11 L613.77 521.25 L615.77 520.39 L617.76 519.52 L619.76 518.65 L621.76 517.78 L623.76 516.91 L625.76 516.03 L627.76 515.15 L629.76 514.26 L631.76 513.38 L633.76 512.49 L635.76 511.60 L637.75 510.71 L639.75 509.81 L641.75 508.91 L643.75 508.01 L645.75 507.10 L647.75 506.20 L649.75 505.29 L651.75 504.37 L653.75 503.46 L655.74 502.54 L657.74 501.62 L659.74 500.69 L661.74 499.77 L663.74 498.84 L665.74 497.90 L667.74 496.97 L669.74 496.03 L671.74 495.09 L673.74 494.15 L675.73 493.20 L677.73 492.25 L679.73 491.30 L681.73 490.34 L683.73 489.39 L685.73 488.43 L687.73 487.46 L689.73 486.50 L691.73 485.53 L693.72 484.55 L695.72 483.58 L697.72 482.60 L699.72 481.62 L701.72 480.64 L703.72 479.65 L705.72 478.66 L707.72 477.67 L709.72 476.67 L711.72 475.68 L713.71 474.68 L715.71 473.67 L717.71 472.66 L719.71 471.66 L721.71 470.64 L723.71 469.63 L725.71 468.61 L727.71 467.59 L729.71 466.56 L731.71 465.53 L733.70 464.50 L735.70 463.47 L737.70 462.43 L739.70 461.39 L741.70 460.35" fill="none" stroke="#008b00" stroke-width="2.58" stroke-dasharray="11.88,7.13" stroke-dashoffset="0.00"/>
<path d="M68.05 654.65 L70.05 654.53 L72.05 654.41 L74.05 654.29 L76.05 654.16 L78.04 654.02 L80.04 653.89 L82.04 653.74 L84.04 653.60 L86.04 653.45 L88.04 653.29 L90.04 653.13 L92.04 652.97 L94.04 652.80 L96.04 652.63 L98.03 652.45 L100.03 652.27 L102.03 652.09 L104.03 651.90 L106.03 651.71 L108.03 651.52 L110.03 651.32 L112.03 651.11 L114.03 650.91 L116.03 650.70 L118.02 650.48 L120.02 650.26 L122.02 650.04 L124.02 649.82 L126.02 649.59 L128.02 649.36 L130.02 649.12 L132.02 648.88 L134.02 648.64 L136.01 648.39 L138.01 648.14 L140.01 647.89 L142.01 647.63 L144.01 647.37 L146.01 647.10 L148.01 646.84 L150.01 646.57 L152.01 646.29 L154.01 646.02 L156.00 645.74 L158.00 645.45 L160.00 645.16 L162.00 644.87 L164.00 644.58 L166.00 644.28 L168.00 643.98 L170.00 643.68 L172.00 643.37 L173.99 643.07 L175.99 642.75 L177.99 642.44 L179.99 642.12 L181.99 641.80 L183.99 641.47 L185.99 641.14 L187.99 640.81 L189.99 640.48 L191.99 640.14 L193.98 639.80 L195.98 639.46 L197.98 639.11 L199.98 638.77 L201.98 638.41 L203.98 638.06 L205.98 637.70 L207.98 637.34 L209.98 636.98 L211.98 636.61 L213.97 636.24 L215.97 635.87 L217.97 635.50 L219.97 635.12 L221.97 634.74 L223.97 634.36 L225.97 633.97 L227.97 633.58 L229.97 633.19 L231.96 632.80 L233.96 632.40 L235.96 632.00 L237.96 631.60 L239.96 631.19 L241.96 630.79 L243.96 630.38 L245.96 629.96 L247.96 629.55 L249.96 629.13 L251.95 628.71 L253.95 628.29 L255.95 627.86 L257.95 627.43 L259.95 627.00 L261.95 626.57 L263.95 626.13 L265.95 625.69 L267.95 625.25 L269.95 624.80 L271.94 624.36 L273.94 623.91 L275.94 623.46 L277.94 623.00 L279.94 622.54 L281.94 622.08 L283.94 621.62 L285.94 621.16 L287.94 620.69 L289.93 620.22 L291.93 619.75 L293.93 619.27 L295.93 618.80 L297.93 618.32 L299.93 617.84 L301.93 617.35 L303.93 616.87 L305.93 616.38 L307.93 615.88 L309.92 615.39 L311.92 614.89 L313.92 614.39 L315.92 613.89 L317.92 613.39 L319.92 612.88 L321.92 612.37 L323.92 611.86 L325.92 611.35 L327.91 610.83 L329.91 610.32 L331.91 609.80 L333.91 609.27 L335.91 608.75 L337.91 608.22 L339.91 607.69 L341.91 607.16 L343.91 606.62 L345.91 606.09 L347.90 605.55 L349.90 605.01 L351.90 604.46 L353.90 603.92 L355.90 603.37 L357.90 602.82 L359.90 602.26 L361.90 601.71 L363.90 601.15 L365.90 600.59 L367.89 600.03 L369.89 599.46 L371.89 598.90 L373.89 598.33 L375.89 597.75 L377.89 597.18 L379.89 596.60 L381.89 596.03 L383.89 595.45 L385.88 594.86 L387.88 594.28 L389.88 593.69 L391.88 593.10 L393.88 592.51 L395.88 591.91 L397.88 591.32 L399.88 590.72 L401.88 590.12 L403.88 589.51 L405.87 588.91 L407.87 588.30 L409.87 587.69 L411.87 587.08 L413.87 586.46 L415.87 585.85 L417.87 585.23 L419.87 584.61 L421.87 583.98 L423.87 583.36 L425.86 582.73 L427.86 582.10 L429.86 581.47 L431.86 580.83 L433.86 580.20 L435.86 579.56 L437.86 578.92 L439.86 578.27 L441.86 577.63 L443.85 576.98 L445.85 576.33 L447.85 575.68 L449.85 575.02 L451.85 574.37 L453.85 573.71 L455.85 573.05 L457.85 572.38 L459.85 571.72 L461.85 571.05 L463.84 570.38 L465.84 569.71 L467.84 569.04 L469.84 568.36 L471.84 567.68 L473.84 567.00 L475.84 566.32 L477.84 565.63 L479.84 564.94 L481.84 564.25 L483.83 563.56 L485.83 562.87 L487.83 562.17 L489.83 561.47 L491.83 560.77 L493.83 560.07 L495.83 559.37 L497.83 558.66 L499.83 557.95 L501.82 557.24 L503.82 556.52 L505.82 555.81 L507.82 555.09 L509.82 554.37 L511.82 553.65 L513.82 552.92 L515.82 552.19 L517.82 551.47 L519.82 550.73 L521.81 550.00 L523.81 549.26 L525.81 548.53 L527.81 547.79 L529.81 547.04 L531.81 546.30 L533.81 545.55 L535.81 544.80 L537.81 544.05 L539.80 543.30 L541.80 542.54 L543.80 541.79 L545.80 541.03 L547.80 540.26 L549.80 539.50 L551.80 538.73 L553.80 537.96 L555.80 537.19 L557.80 536.42 L559.79 535.64 L561.79 534.87 L563.79 534.09 L565.79 533.30 L567.79 532.52 L569.79 531.73 L571.79 530.94 L573.79 530.15 L575.79 529.36 L577.79 528.56 L579.78 527.77 L581.78 526.97 L583.78 526.16 L585.78 525.36 L587.78 524.55 L589.78 523.74 L591.78 522.93 L593.78 522.12 L595.78 521.30 L597.77 520.48 L599.77 519.66 L601.77 518.84 L603.77 518.02 L605.77 517.19 L607.77 516.36 L609.77 515.53 L611.77 514.70 L613.77 513.86 L615.77 513.02 L617.76 512.18 L619.76 511.34 L621.76 510.49 L623.76 509.65 L625.76 508.80 L627.76 507.94 L629.76 507.09 L631.76 506.23 L633.76 505.37 L635.76 504.51 L637.75 503.65 L639.75 502.78 L641.75 501.92 L643.75 501.05 L645.75 500.17 L647.75 499.30 L649.75 498.42 L651.75 497.54 L653.75 496.66 L655.74 495.78 L657.74 494.89 L659.74 494.00 L661.74 493.11 L663.74 492.22 L665.74 491.32 L667.74 490.42 L669.74 489.52 L671.74 488.62 L673.74 487.71 L675.73 486.80 L677.73 485.89 L679.73 484.98 L681.73 484.07 L683.73 483.15 L685.73 482.23 L687.73 481.31 L689.73 480.39 L691.73 479.46 L693.72 478.53 L695.72 477.60 L697.72 476.66 L699.72 475.73 L701.72 474.79 L703.72 473.85 L705.72 472.91 L707.72 471.96 L709.72 471.01 L711.72 470.06 L713.71 469.11 L715.71 468.15 L717.71 467.20 L719.71 466.23 L721.71 465.27 L723.71 464.31 L725.71 463.34 L727.71 462.37 L729.71 461.40 L731.71 460.42 L733.70 459.44 L735.70 458.46 L737.70 457.48 L739.70 456.50 L741.70 455.51" fill="none" stroke="#000000" stroke-width="2.58" stroke-dasharray="2.38,7.13,11.88,7.13,2.38,7.13" stroke-dashoffset="0.00"/>
</g>
<g stroke="#000" stroke-width="1.30" fill="none" stroke-linecap="butt">
<rect x="68.05" y="4.50" width="673.65" height="674.10"/>
<line x1="68.05" y1="341.65" x2="741.70" y2="341.65" stroke-width="1.8"/>
<path d="M105.47 4.50L105.47 16.50 M105.47 341.55L105.47 329.55 M105.47 341.55L105.47 353.55 M105.47 678.60L105.47 666.60 M142.90 4.50L142.90 12.70 M142.90 341.55L142.90 333.35 M180.32 4.50L180.32 12.70 M180.32 341.55L180.32 333.35 M180.32 341.55L180.32 349.75 M180.32 678.60L180.32 670.40 M217.75 4.50L217.75 12.70 M217.75 341.55L217.75 333.35 M255.18 4.50L255.18 16.50 M255.18 341.55L255.18 329.55 M255.18 341.55L255.18 353.55 M255.18 678.60L255.18 666.60 M292.60 4.50L292.60 12.70 M292.60 341.55L292.60 333.35 M330.03 4.50L330.03 12.70 M330.03 341.55L330.03 333.35 M330.03 341.55L330.03 349.75 M330.03 678.60L330.03 670.40 M367.45 4.50L367.45 12.70 M367.45 341.55L367.45 333.35 M404.88 4.50L404.88 16.50 M404.88 341.55L404.88 329.55 M404.88 341.55L404.88 353.55 M404.88 678.60L404.88 666.60 M442.30 4.50L442.30 12.70 M442.30 341.55L442.30 333.35 M479.73 4.50L479.73 12.70 M479.73 341.55L479.73 333.35 M479.73 341.55L479.73 349.75 M479.73 678.60L479.73 670.40 M517.15 4.50L517.15 12.70 M517.15 341.55L517.15 333.35 M554.58 4.50L554.58 16.50 M554.58 341.55L554.58 329.55 M554.58 341.55L554.58 353.55 M554.58 678.60L554.58 666.60 M592.00 4.50L592.00 12.70 M592.00 341.55L592.00 333.35 M629.43 4.50L629.43 12.70 M629.43 341.55L629.43 333.35 M629.43 341.55L629.43 349.75 M629.43 678.60L629.43 670.40 M666.85 4.50L666.85 12.70 M666.85 341.55L666.85 333.35 M704.27 4.50L704.27 16.50 M704.27 341.55L704.27 329.55 M704.27 341.55L704.27 353.55 M704.27 678.60L704.27 666.60 M68.05 325.50L76.25 325.50 M741.70 325.50L733.50 325.50 M68.05 309.45L76.25 309.45 M741.70 309.45L733.50 309.45 M68.05 293.40L84.35 293.40 M741.70 293.40L725.40 293.40 M68.05 277.35L76.25 277.35 M741.70 277.35L733.50 277.35 M68.05 261.30L76.25 261.30 M741.70 261.30L733.50 261.30 M68.05 245.25L76.25 245.25 M741.70 245.25L733.50 245.25 M68.05 229.20L76.25 229.20 M741.70 229.20L733.50 229.20 M68.05 213.15L84.35 213.15 M741.70 213.15L725.40 213.15 M68.05 197.10L76.25 197.10 M741.70 197.10L733.50 197.10 M68.05 181.05L76.25 181.05 M741.70 181.05L733.50 181.05 M68.05 165.00L76.25 165.00 M741.70 165.00L733.50 165.00 M68.05 148.95L76.25 148.95 M741.70 148.95L733.50 148.95 M68.05 132.90L84.35 132.90 M741.70 132.90L725.40 132.90 M68.05 116.85L76.25 116.85 M741.70 116.85L733.50 116.85 M68.05 100.80L76.25 100.80 M741.70 100.80L733.50 100.80 M68.05 84.75L76.25 84.75 M741.70 84.75L733.50 84.75 M68.05 68.70L76.25 68.70 M741.70 68.70L733.50 68.70 M68.05 52.65L84.35 52.65 M741.70 52.65L725.40 52.65 M68.05 36.60L76.25 36.60 M741.70 36.60L733.50 36.60 M68.05 20.55L76.25 20.55 M741.70 20.55L733.50 20.55 M68.05 662.55L76.25 662.55 M741.70 662.55L733.50 662.55 M68.05 646.50L76.25 646.50 M741.70 646.50L733.50 646.50 M68.05 630.45L84.35 630.45 M741.70 630.45L725.40 630.45 M68.05 614.40L76.25 614.40 M741.70 614.40L733.50 614.40 M68.05 598.35L76.25 598.35 M741.70 598.35L733.50 598.35 M68.05 582.30L76.25 582.30 M741.70 582.30L733.50 582.30 M68.05 566.25L76.25 566.25 M741.70 566.25L733.50 566.25 M68.05 550.20L84.35 550.20 M741.70 550.20L725.40 550.20 M68.05 534.15L76.25 534.15 M741.70 534.15L733.50 534.15 M68.05 518.10L76.25 518.10 M741.70 518.10L733.50 518.10 M68.05 502.05L76.25 502.05 M741.70 502.05L733.50 502.05 M68.05 486.00L76.25 486.00 M741.70 486.00L733.50 486.00 M68.05 469.95L84.35 469.95 M741.70 469.95L725.40 469.95 M68.05 453.90L76.25 453.90 M741.70 453.90L733.50 453.90 M68.05 437.85L76.25 437.85 M741.70 437.85L733.50 437.85 M68.05 421.80L76.25 421.80 M741.70 421.80L733.50 421.80 M68.05 405.75L76.25 405.75 M741.70 405.75L733.50 405.75 M68.05 389.70L84.35 389.70 M741.70 389.70L725.40 389.70 M68.05 373.65L76.25 373.65 M741.70 373.65L733.50 373.65 M68.05 357.60L76.25 357.60 M741.70 357.60L733.50 357.60"/>
</g>
<g font-size="35.6px" fill="#000">
<text transform="translate(61.0 305.75) scale(0.925 1)" text-anchor="end">0.95</text>
<text transform="translate(61.0 225.50) scale(0.925 1)" text-anchor="end">1.00</text>
<text transform="translate(61.0 145.25) scale(0.925 1)" text-anchor="end">1.05</text>
<text transform="translate(61.0 65.00) scale(0.925 1)" text-anchor="end">1.10</text>
<text transform="translate(61.0 642.80) scale(0.925 1)" text-anchor="end">0.95</text>
<text transform="translate(61.0 562.55) scale(0.925 1)" text-anchor="end">1.00</text>
<text transform="translate(61.0 482.30) scale(0.925 1)" text-anchor="end">1.05</text>
<text transform="translate(61.0 402.05) scale(0.925 1)" text-anchor="end">1.10</text>
<text transform="translate(105.17 710.2) scale(0.935 1)" text-anchor="middle">0.04</text>
<text transform="translate(254.88 710.2) scale(0.935 1)" text-anchor="middle">0.06</text>
<text transform="translate(404.58 710.2) scale(0.935 1)" text-anchor="middle">0.08</text>
<text transform="translate(554.28 710.2) scale(0.935 1)" text-anchor="middle">0.10</text>
<text transform="translate(703.98 710.2) scale(0.935 1)" text-anchor="middle">0.12</text>
</g>
<text x="334.2" y="749.2" font-size="38.2px" fill="#000">2M</text>
<text transform="translate(387.4 749.2) scale(1.12 1)" font-size="38.2px" fill="#000">&#937;</text>
<text x="107.4" y="51.3" font-size="33.3px" fill="#000">Taylor-expanded Flux</text>
<text x="104.9" y="387.2" font-size="33.3px" fill="#000">Pad&#233;-resummed Flux</text>
<text transform="translate(633.00 95.90) scale(1.005 1)" font-size="28.0px" fill="#0000ff">NR</text>
<text transform="translate(259.50 163.10) scale(1.060 1)" font-size="28.0px" fill="#9400d3">F</text>
<text transform="translate(275.00 167.30) scale(0.930 1)" font-size="20.4px" fill="#9400d3">3</text>
<text transform="translate(327.90 183.00) scale(1.060 1)" font-size="28.0px" fill="#ff0000">F</text>
<text transform="translate(343.40 187.20) scale(0.930 1)" font-size="20.4px" fill="#ff0000">6</text>
<text transform="translate(406.10 196.80) scale(1.060 1)" font-size="28.0px" fill="#bc8f8f">F</text>
<text transform="translate(421.60 201.00) scale(0.930 1)" font-size="20.4px" fill="#bc8f8f">4</text>
<text transform="translate(424.20 261.60) scale(1.060 1)" font-size="28.0px" fill="#000000">F</text>
<text transform="translate(439.70 265.80) scale(0.930 1)" font-size="20.4px" fill="#000000">7</text>
<text transform="translate(431.80 536.50) scale(1.005 1)" font-size="28.0px" fill="#0000ff">NR</text>
<text transform="translate(514.50 388.50) scale(1.060 1)" font-size="28.0px" fill="#9400d3">F</text>
<text transform="translate(530.00 395.80) scale(0.930 1)" font-size="20.4px" fill="#9400d3">2</text>
<text transform="translate(533.10 377.00) scale(0.930 1)" font-size="20.4px" fill="#9400d3">1</text>
<text transform="translate(593.10 443.00) scale(1.060 1)" font-size="28.0px" fill="#000000">F</text>
<text transform="translate(608.60 450.30) scale(0.930 1)" font-size="20.4px" fill="#000000">4</text>
<text transform="translate(611.70 431.50) scale(0.930 1)" font-size="20.4px" fill="#000000">3</text>
<text transform="translate(657.60 472.30) scale(1.060 1)" font-size="28.0px" fill="#ff0000">F</text>
<text transform="translate(673.10 479.60) scale(0.930 1)" font-size="20.4px" fill="#ff0000">3</text>
<text transform="translate(676.20 460.80) scale(0.930 1)" font-size="20.4px" fill="#ff0000">3</text>
<text transform="translate(665.50 522.10) scale(1.060 1)" font-size="28.0px" fill="#008b00">F</text>
<text transform="translate(681.00 529.40) scale(0.930 1)" font-size="20.4px" fill="#008b00">3</text>
<text transform="translate(684.10 510.60) scale(0.930 1)" font-size="20.4px" fill="#008b00">2</text>
<text transform="translate(650.70 570.90) scale(1.060 1)" font-size="28.0px" fill="#bc8f8f">F</text>
<text transform="translate(666.20 578.20) scale(0.930 1)" font-size="20.4px" fill="#bc8f8f">2</text>
<text transform="translate(669.30 559.40) scale(0.930 1)" font-size="20.4px" fill="#bc8f8f">2</text>
<g stroke="#000" stroke-width="1.25" fill="none" stroke-linecap="butt" stroke-linejoin="miter">
<line x1="591.40" y1="446.40" x2="571.30" y2="529.70"/>
<path d="M579.44 518.31L571.30 529.70L569.25 515.85"/>
</g>
</svg>
</body></html>
